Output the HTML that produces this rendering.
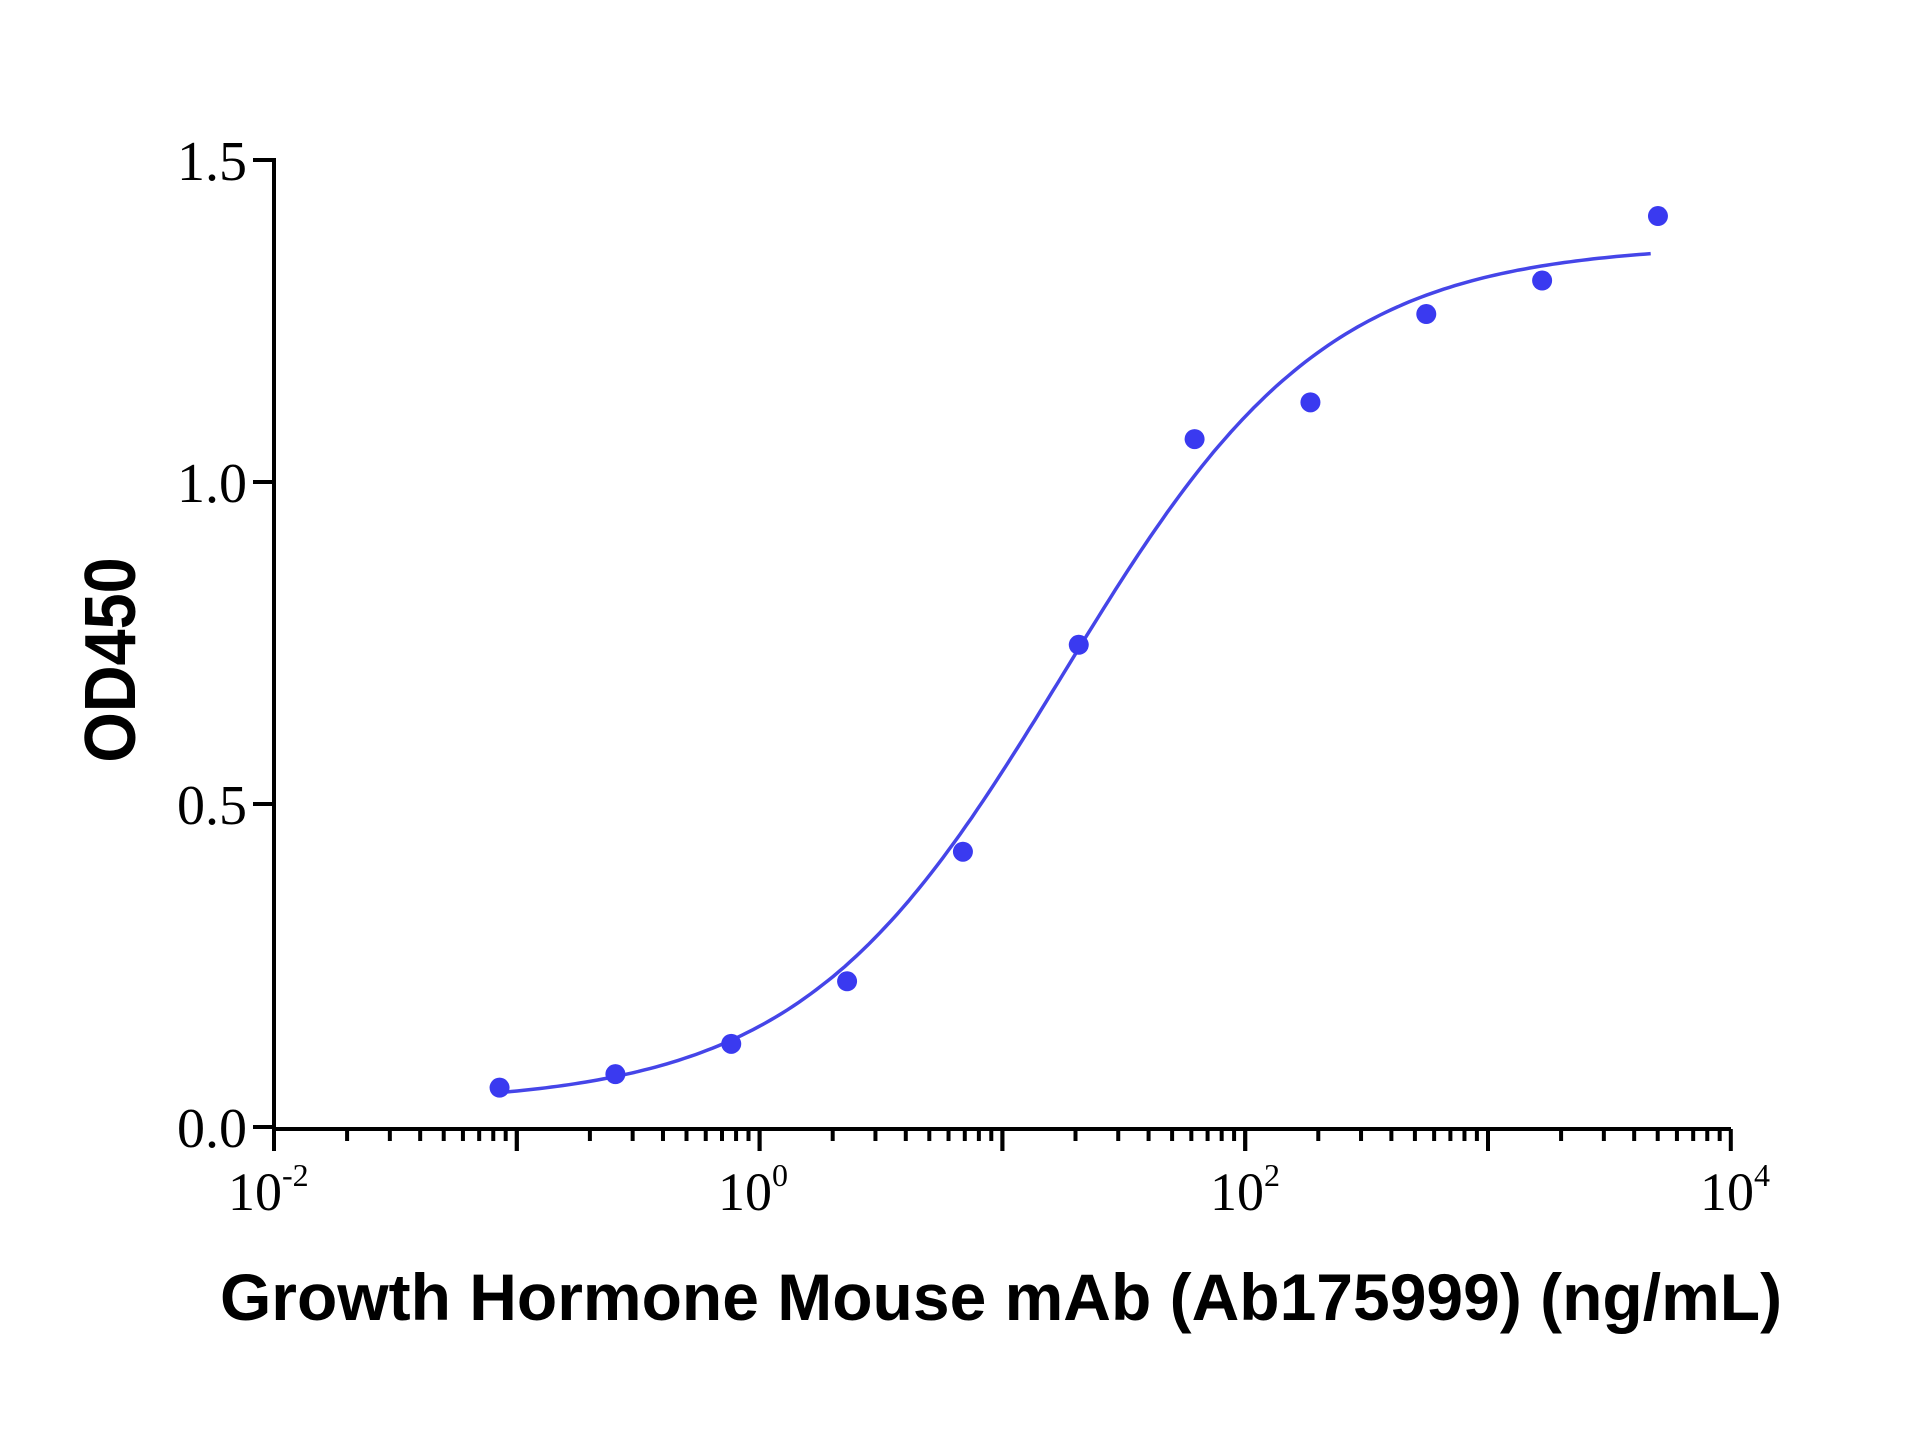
<!DOCTYPE html>
<html><head><meta charset="utf-8"><style>html,body{margin:0;padding:0;background:#fff;}svg{display:block}</style></head>
<body>
<svg id="s" width="1920" height="1440" viewBox="0 0 1920 1440" xmlns="http://www.w3.org/2000/svg">
<rect width="1920" height="1440" fill="#fff"/>
<g id="ax" stroke="#000" stroke-width="4" fill="none">
<line x1="274" y1="158" x2="274" y2="1129"/>
<line x1="272" y1="1129" x2="1731" y2="1129"/>
<line x1="253" y1="160" x2="274" y2="160"/>
<line x1="253" y1="482" x2="274" y2="482"/>
<line x1="253" y1="804" x2="274" y2="804"/>
<line x1="253" y1="1127" x2="274" y2="1127"/>
</g>
<g font-family="Liberation Serif, serif" font-size="56" fill="#000" text-anchor="end">
<text x="247" y="180">1.5</text>
<text x="247" y="502">1.0</text>
<text x="247" y="824">0.5</text>
<text x="247" y="1147">0.0</text>
</g>
<g font-family="Liberation Serif, serif" font-size="54" fill="#000">
<text x="228" y="1210">10<tspan font-size="32" dy="-24">-2</tspan></text>
<text x="718" y="1210">10<tspan font-size="32" dy="-24">0</tspan></text>
<text x="1210" y="1210">10<tspan font-size="32" dy="-24">2</tspan></text>
<text x="1700" y="1210">10<tspan font-size="32" dy="-24">4</tspan></text>
</g>
<text x="1001" y="1320" text-anchor="middle" font-family="Liberation Sans, sans-serif" font-weight="bold" font-size="66" fill="#000">Growth Hormone Mouse mAb (Ab175999) (ng/mL)</text>
<text transform="translate(135,660) rotate(-90) scale(0.9,1)" text-anchor="middle" font-family="Liberation Sans, sans-serif" font-weight="bold" font-size="72" fill="#000">OD450</text>
</svg>
<script>
var s=document.getElementById('s'),NS='http://www.w3.org/2000/svg';
function X(l){return 274+(l+2)*242.8;}function Y(o){return 1127-o*644.7;}
var ax=document.getElementById('ax');
for(var d=-2;d<4;d++){for(var k=1;k<=10;k++){var x=X(d+Math.log10(k));var big=(k==1||k==10);var ln=document.createElementNS(NS,'line');ln.setAttribute('x1',x);ln.setAttribute('x2',x);ln.setAttribute('y1',1129);ln.setAttribute('y2',big?1151:1141);ax.appendChild(ln);}}
var p='';for(var i=0;i<=200;i++){var l=-1.07+i*(3.67+1.07)/200;var o=0.035+1.335/(1+Math.pow(10,0.8*(1.25-l)));p+=(i?'L':'M')+X(l).toFixed(1)+','+Y(o).toFixed(1);}
var pa=document.createElementNS(NS,'path');pa.setAttribute('d',p);pa.setAttribute('stroke','#4545e8');pa.setAttribute('stroke-width','3.5');pa.setAttribute('fill','none');s.appendChild(pa);
var ods=[0.061,0.082,0.129,0.226,0.427,0.748,1.067,1.124,1.261,1.313,1.413];
for(var j=0;j<ods.length;j++){var c=document.createElementNS(NS,'circle');c.setAttribute('cx',X(-1.071+j*0.4771));c.setAttribute('cy',Y(ods[j]));c.setAttribute('r',10);c.setAttribute('fill','#3a3af0');s.appendChild(c);}
</script>
</body></html>
